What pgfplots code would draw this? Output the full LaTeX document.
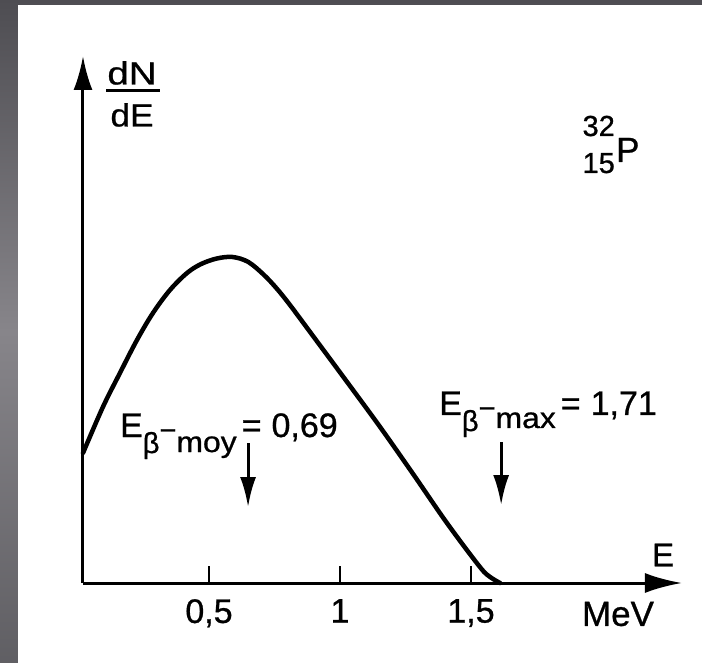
\documentclass[border=0pt]{standalone}
\usepackage{fontspec}
\setmainfont{Liberation Sans}[FakeBold=0.8]
\usepackage{pgfplots}
\pgfplotsset{compat=1.18}
\usetikzlibrary{arrows.meta}
\newcommand{\fs}[1]{\fontsize{#1}{#1}\selectfont}
\definecolor{bgdark}{RGB}{78,77,82}
\definecolor{bglight}{RGB}{135,133,138}

\begin{document}
\begin{tikzpicture}[every node/.append style={inner sep=0pt}]
% grey frame round the white sheet
\shade[top color=bgdark, bottom color=bgdark!90!white, middle color=bglight]
  (-83pt,-79pt) rectangle (619pt,583pt);
\fill[white] (-65pt,-90pt) rectangle (630pt,578pt);

\begin{axis}[
    x=262pt, y=100pt,
    xmin=0.019, xmax=2.305,
    ymin=0, ymax=5.27,
    axis lines=left,
    axis line style={line width=3pt},
    x axis line style={-{Latex[length=37pt,width=20pt]}},
    y axis line style={-{Latex[length=34pt,width=19pt]}},
    xtick={0.5,1,1.5},
    xticklabels={{0,5},{1},{1,5}},
    ytick=\empty,
    tick align=inside,
    major tick length=17pt,
    tick style={line width=2.8pt, black},
    xticklabel style={font=\fs{34}, yshift=-16pt},
    clip=false,
]
% beta spectrum of P-32
\addplot[line width=4.5pt, smooth, tension=0.55, line cap=round] coordinates {
    (0.019,1.30) (0.095,1.76) (0.160,2.10) (0.225,2.43) (0.286,2.70)
    (0.351,2.93) (0.416,3.10) (0.470,3.19) (0.530,3.245) (0.590,3.26)
    (0.650,3.21) (0.710,3.08) (0.760,2.94) (0.809,2.78) (0.897,2.47)
    (1.027,2.01) (1.153,1.56) (1.279,1.09) (1.408,0.60) (1.534,0.16)
    (1.573,0.06) (1.611,0)
};

% axis labels
\node[font=\fs{32}] at (axis cs:0.206,5.10) {\scalebox{1.2}[1]{dN}};
\draw[line width=3pt] (axis cs:0.107,4.92) -- (axis cs:0.313,4.92);
\node[font=\fs{32}] at (axis cs:0.206,4.68) {\scalebox{1.1}[1]{dE}};
\node[font=\fs{33}] at (axis cs:2.233,0.28) {E};
\node[font=\fs{35}] at (axis cs:2.061,-0.31) {MeV};

% nuclide
\node[anchor=base west, font=\fs{29}] at (axis cs:1.925,4.47) {32};
\node[anchor=base west, font=\fs{29}] at (axis cs:1.925,4.10) {15};
\node[anchor=base west, font=\fs{35}] at (axis cs:2.053,4.21) {P};

% mean and max energies
\node[anchor=base west, font=\fs{34}] at (axis cs:0.160,1.46)
  {E\raisebox{-16pt}{\fs{29}β}\raisebox{-3pt}{\fs{29}−}\raisebox{-15pt}{\fs{29}\scalebox{1.1}[1]{moy}}\hspace{5pt}=\hspace{10pt}0,69};
\draw[line width=3pt, -{Latex[length=30pt,width=16pt]}]
  (axis cs:0.649,1.40) -- (axis cs:0.649,0.76);

\node[anchor=base west, font=\fs{34}] at (axis cs:1.378,1.68)
  {E\raisebox{-16pt}{\fs{29}β}\raisebox{-3pt}{\fs{29}−}\raisebox{-13pt}{\fs{29}\scalebox{1.1}[1]{max}}\hspace{5pt}=\hspace{10pt}1,71};
\draw[line width=3pt, -{Latex[length=30pt,width=16pt]}]
  (axis cs:1.615,1.41) -- (axis cs:1.615,0.78);
\end{axis}

\pgfresetboundingbox
\path (-83pt,-79pt) rectangle (619pt,583pt);
\end{tikzpicture}
\end{document}
